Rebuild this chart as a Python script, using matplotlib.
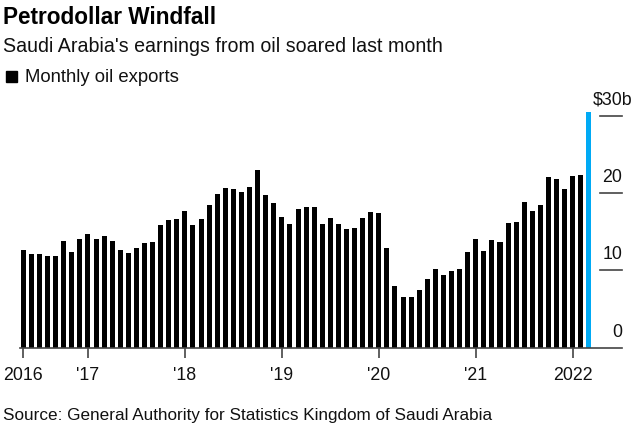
import matplotlib
matplotlib.use("Agg")
import matplotlib.pyplot as plt

plt.rcParams['font.family'] = ['Liberation Sans', 'DejaVu Sans']

# Monthly oil exports, May 2016 - Mar 2022 ($ billions)
months = ["2016-05","2016-06","2016-07","2016-08","2016-09","2016-10","2016-11","2016-12",
          "2017-01","2017-02","2017-03","2017-04","2017-05","2017-06","2017-07","2017-08","2017-09","2017-10","2017-11","2017-12",
          "2018-01","2018-02","2018-03","2018-04","2018-05","2018-06","2018-07","2018-08","2018-09","2018-10","2018-11","2018-12",
          "2019-01","2019-02","2019-03","2019-04","2019-05","2019-06","2019-07","2019-08","2019-09","2019-10","2019-11","2019-12",
          "2020-01","2020-02","2020-03","2020-04","2020-05","2020-06","2020-07","2020-08","2020-09","2020-10","2020-11","2020-12",
          "2021-01","2021-02","2021-03","2021-04","2021-05","2021-06","2021-07","2021-08","2021-09","2021-10","2021-11","2021-12",
          "2022-01","2022-02","2022-03"]
exports = [12.6, 12.1, 12.1, 11.9, 11.8, 13.8, 12.4, 14.0,
           14.7, 14.1, 14.4, 13.8, 12.6, 12.2, 12.9, 13.5, 13.7, 15.9, 16.5, 16.6,
           17.7, 15.9, 16.6, 18.4, 19.9, 20.7, 20.5, 20.2, 20.8, 23.0, 19.7, 18.7,
           16.9, 16.0, 17.9, 18.2, 18.2, 16.0, 16.8, 16.0, 15.4, 15.5, 16.8, 17.6,
           17.4, 12.9, 8.0, 6.6, 6.6, 7.4, 8.9, 10.2, 9.4, 9.9, 10.2, 12.4,
           14.1, 12.5, 13.9, 13.7, 16.1, 16.3, 18.9, 17.7, 18.5, 22.1, 21.8, 20.5,
           22.2, 22.4, 30.5]
tick_months = ["2016-05", "2017-01", "2018-01", "2019-01", "2020-01", "2021-01", "2022-01"]
tick_labels = ["2016", "'17", "'18", "'19", "'20", "'21", "2022"]
y_ticks = [0, 10, 20, 30]
y_labels = ["0", "10", "20", "$30b"]

W, H = 643, 428
fig = plt.figure(figsize=(W / 100, H / 100), dpi=100)

# axes in pixel coords
left_px, right_px = 20, 622
bottom_px, top_px = 347.5, 100.5
ax = fig.add_axes([left_px / W, 1 - bottom_px / H, (right_px - left_px) / W, (bottom_px - top_px) / H])

x = list(range(len(months)))
colors = ['#000000'] * (len(months) - 1) + ['#00aaf5']
ax.bar(x, exports, width=0.62, color=colors, linewidth=0, zorder=2)

ax.set_xlim(-0.41, 74.1)
ax.set_ylim(0, 32)

for s in ['top', 'right', 'left']:
    ax.spines[s].set_visible(False)
ax.spines['bottom'].set_color('#444444')
ax.spines['bottom'].set_linewidth(1.2)
ax.spines['bottom'].set_zorder(3)

ax.set_xticks([months.index(m) for m in tick_months])
ax.set_xticklabels(tick_labels, fontsize=12.8, color='#111111')
ax.tick_params(axis='x', length=7, width=1.2, color='#444444', pad=7)
ax.set_yticks([])

# short right-side gridlines with labels above
x_axis_px = lambda px: (px - left_px) / (right_px - left_px)
for v, lab in zip(y_ticks, y_labels):
    if v > 0:
        ax.plot([x_axis_px(600), 1.0], [v, v], transform=ax.get_yaxis_transform(),
                color='#444444', lw=1.2, clip_on=False, zorder=3)
    if lab.endswith("b"):
        ax.annotate(lab, xy=(x_axis_px(593), v), xycoords=ax.get_yaxis_transform(),
                    xytext=(0, 5), textcoords='offset points', ha='left', va='bottom',
                    fontsize=12.8, color='#111111')
    else:
        ax.annotate(lab, xy=(1.0, v), xycoords=ax.get_yaxis_transform(),
                    xytext=(0, 5), textcoords='offset points', ha='right', va='bottom',
                    fontsize=12.8, color='#111111')

# titles
fig.text(3 / W, 1 - 23.5 / H, "Petrodollar Windfall", fontsize=16.3, fontweight='bold',
         ha='left', va='baseline', color='#000000')
fig.text(3 / W, 1 - 51.5 / H, "Saudi Arabia's earnings from oil soared last month",
         fontsize=14.1, ha='left', va='baseline', color='#111111')
fig.patches.append(matplotlib.patches.Rectangle((6 / W, 1 - 81.5 / H), 11 / W, 11 / H,
                   transform=fig.transFigure, color='#000000'))
fig.text(25 / W, 1 - 81.5 / H, "Monthly oil exports", fontsize=13.3, ha='left',
         va='baseline', color='#111111')
fig.text(3 / W, 1 - 420 / H, "Source: General Authority for Statistics Kingdom of Saudi Arabia",
         fontsize=12.3, ha='left', va='baseline', color='#111111')

fig.savefig("out.png", dpi=100)
